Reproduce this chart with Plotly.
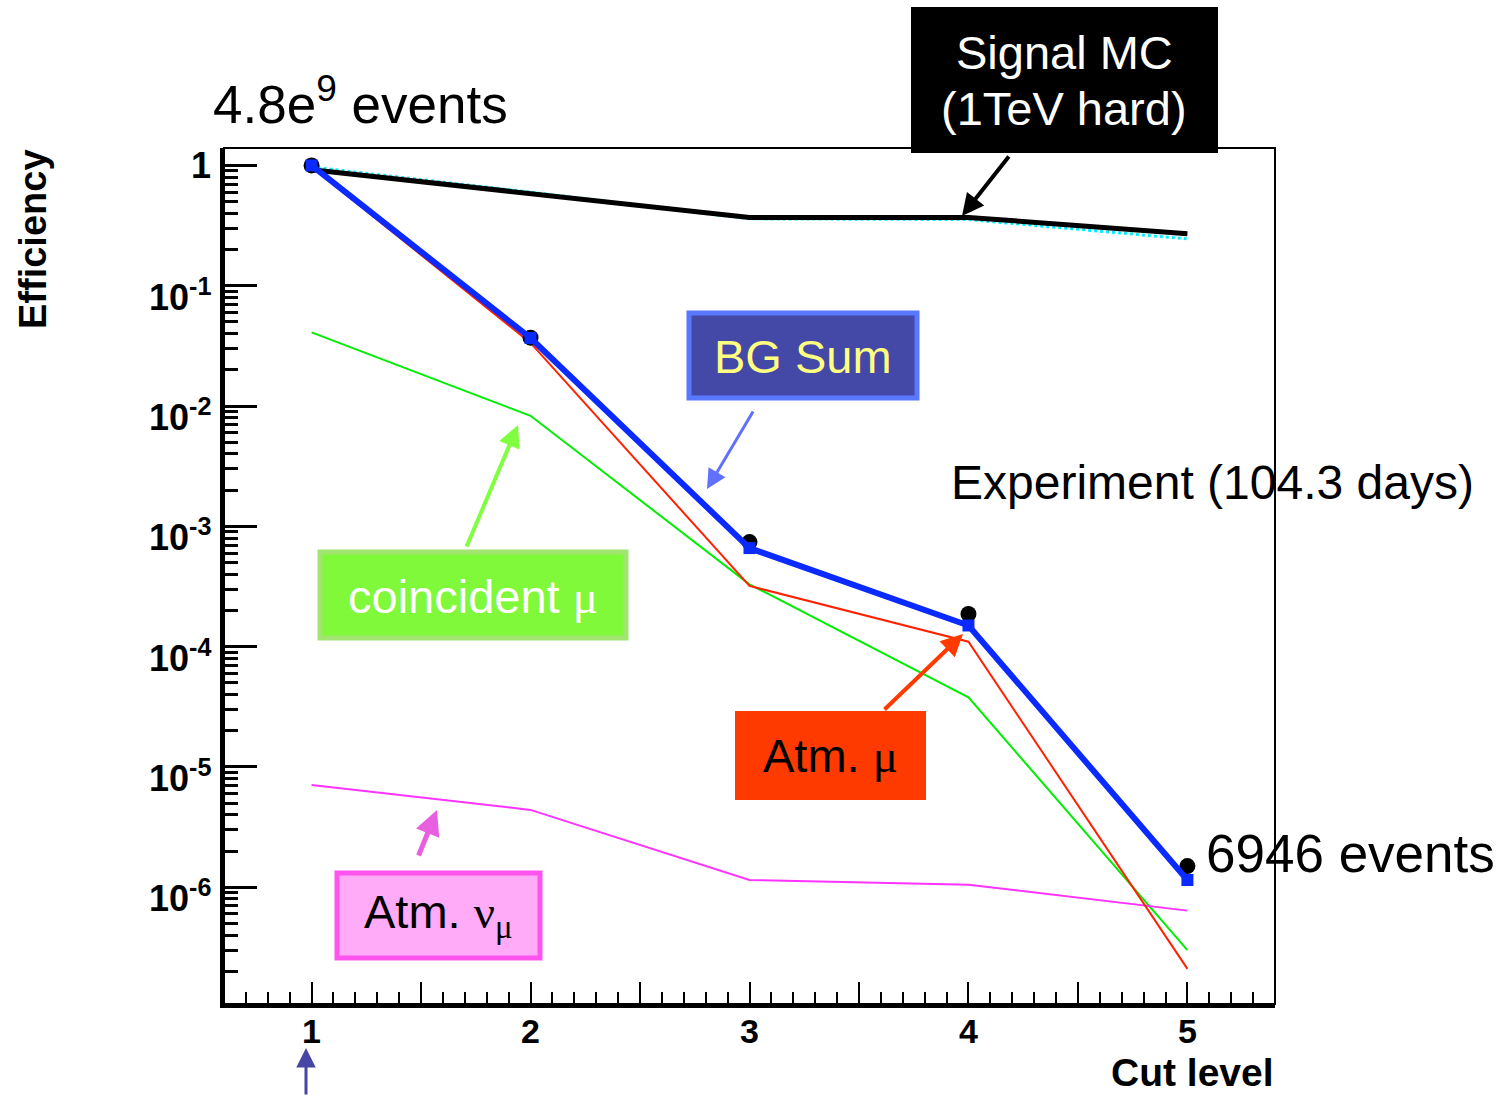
import math
import plotly.graph_objects as go

# ---------------- data ----------------
cut_levels = [1, 2, 3, 4, 5]
signal_mc = [0.92, 0.59, 0.37, 0.37, 0.27]
signal_mc_alt = [0.97, 0.60, 0.36, 0.355, 0.245]
bg_sum = [1.0, 0.0368, 6.6e-4, 1.5e-4, 1.15e-6]
experiment = [1.0, 0.037, 7.4e-4, 1.87e-4, 1.5e-6]
atm_mu = [0.97, 0.0335, 3.2e-4, 1.1e-4, 2.1e-7]
coincident_mu = [0.041, 8.3e-3, 3.3e-4, 3.8e-5, 3.0e-7]
atm_nu_mu = [7.1e-6, 4.4e-6, 1.15e-6, 1.05e-6, 6.4e-7]

x_tickvals = [1, 1.5, 2, 2.5, 3, 3.5, 4, 4.5, 5]
x_labelvals = [1, 2, 3, 4, 5]
x_labeltext = ["1", "2", "3", "4", "5"]
y_tickvals = [1, 1e-1, 1e-2, 1e-3, 1e-4, 1e-5, 1e-6]
y_ticktext = ["1", "10<sup>-1</sup>", "10<sup>-2</sup>", "10<sup>-3</sup>",
              "10<sup>-4</sup>", "10<sup>-5</sup>", "10<sup>-6</sup>"]

# ---------------- layout geometry ----------------
W, H = 1504, 1096
L, R, T, B = 224, 1275, 148, 1004
PW, PH = R - L, B - T


def px(x):
    return (x - L) / PW


def py(y):
    return (B - y) / PH


FONT = "Arial, Liberation Sans, Helvetica, sans-serif"
SERIF = "Liberation Serif, Times New Roman, serif"

fig = go.Figure()

fig.add_trace(go.Scatter(x=cut_levels, y=signal_mc_alt, mode="lines",
                         line=dict(color="#00f0ff", width=3, dash="dot"),
                         showlegend=False))
fig.add_trace(go.Scatter(x=cut_levels, y=signal_mc, mode="lines",
                         line=dict(color="black", width=5),
                         showlegend=False))
fig.add_trace(go.Scatter(x=cut_levels, y=coincident_mu, mode="lines",
                         line=dict(color="#00ee00", width=2),
                         showlegend=False))
fig.add_trace(go.Scatter(x=cut_levels, y=atm_nu_mu, mode="lines",
                         line=dict(color="#ff33ff", width=2),
                         showlegend=False))
fig.add_trace(go.Scatter(x=cut_levels, y=atm_mu, mode="lines",
                         line=dict(color="#ff2200", width=2),
                         showlegend=False))
fig.add_trace(go.Scatter(x=cut_levels, y=experiment, mode="markers",
                         marker=dict(color="black", size=16, symbol="circle"),
                         showlegend=False))
fig.add_trace(go.Scatter(x=cut_levels, y=bg_sum, mode="lines+markers",
                         line=dict(color="#0a2aff", width=6),
                         marker=dict(color="#0a2aff", size=12, symbol="square"),
                         showlegend=False))

minor_y = [m * 10 ** k for k in range(-7, 1) for m in range(2, 10)]

fig.update_layout(
    width=W, height=H,
    margin=dict(l=L, r=W - R, t=T, b=H - B, pad=0),
    paper_bgcolor="white", plot_bgcolor="white",
    font=dict(family=FONT, color="black"),
    xaxis=dict(
        range=[0.6, 5.4], showgrid=False, zeroline=False,
        showline=True, linecolor="black", linewidth=4,
        tickmode="array", tickvals=x_tickvals, showticklabels=False,
        ticks="inside", ticklen=22, tickwidth=2, tickcolor="black",
        minor=dict(dtick=0.1, tick0=0, ticks="inside", ticklen=12,
                   tickwidth=2, tickcolor="black", showgrid=False),
    ),
    yaxis=dict(
        type="log", range=[-6.97, 0.145], showgrid=False, zeroline=False,
        showline=True, linecolor="black", linewidth=4,
        tickmode="array", tickvals=y_tickvals, showticklabels=False,
        ticks="inside", ticklen=33, tickwidth=3, tickcolor="black",
        minor=dict(tickmode="array", tickvals=minor_y, ticks="inside",
                   ticklen=14, tickwidth=3, tickcolor="black", showgrid=False),
    ),
)

shapes = []
# top / right frame
shapes.append(dict(type="rect", xref="paper", yref="paper", x0=0, x1=1, y0=0, y1=1,
                   line=dict(color="black", width=2), layer="above"))


def box(x0, y0, x1, y1, fill, border=None, bw=0):
    shapes.append(dict(type="rect", xref="paper", yref="paper",
                       x0=px(x0), x1=px(x1), y0=py(y1), y1=py(y0),
                       fillcolor=fill,
                       line=dict(color=border if border else fill, width=bw if border else 0),
                       layer="above"))


box(911, 7, 1218, 153, "black")
box(689, 313, 917, 398, "#4449a8", "#5a78ff", 5)
box(320, 552, 626, 638, "#80f93a", "#a2e470", 5)
box(735, 711, 926, 800, "#ff3a00")
box(337, 873, 540, 958, "#ffabf8", "#ff55ee", 5)
fig.update_layout(shapes=shapes)

ann = []

# axis tick labels (ROOT style placement)
for v, t in zip(x_labelvals, x_labeltext):
    ann.append(dict(xref="x", yref="paper", x=v, y=py(1031), text=t, showarrow=False,
                    xanchor="center", yanchor="middle",
                    font=dict(size=34, family=FONT, weight="bold", color="black")))
for v, t in zip(y_tickvals, y_ticktext):
    ann.append(dict(xref="paper", yref="y", x=px(213), y=math.log10(v), text=t,
                    showarrow=False, xanchor="right", yanchor="middle",
                    yshift=0 if v == 1 else -9,
                    font=dict(size=36, family=FONT, weight="bold", color="black")))


def text(x, y, s, size=47, color="black", xanchor="left", bold=False, angle=0, yanchor="middle"):
    ann.append(dict(xref="paper", yref="paper", x=px(x), y=py(y), text=s,
                    showarrow=False, xanchor=xanchor, yanchor=yanchor, textangle=angle,
                    font=dict(size=size, color=color, family=FONT,
                              weight="bold" if bold else "normal")))


def arrow(tx, ty, hx, hy, color, width, size=1.0):
    ann.append(dict(xref="paper", yref="paper", x=px(hx), y=py(hy), text="",
                    showarrow=True, axref="pixel", ayref="pixel",
                    ax=tx - hx, ay=ty - hy, arrowhead=2, arrowsize=size,
                    arrowwidth=width, arrowcolor=color, standoff=0, startstandoff=0))


text(211, 100, "4.8e<sup>9</sup> events", size=53)
text(1064, 53, "Signal MC", color="white", xanchor="center")
text(1064, 108, "(1TeV hard)", color="white", xanchor="center")
text(803, 356, "BG Sum", color="#ffff80", xanchor="center")
text(949, 482, "Experiment (104.3 days)", size=48)
text(473, 596, f"coincident <span style='font-family:{SERIF}'>μ</span>", color="white", xanchor="center")
text(830, 755, f"Atm. <span style='font-family:{SERIF}'>μ</span>", xanchor="center")
text(1204, 853, "6946 events", size=53)
text(438, 915, f"Atm. <span style='font-family:{SERIF}'>ν<sub>μ</sub></span>", xanchor="center")
text(1276, 1096, "Cut level", size=39, bold=True, xanchor="right", yanchor="bottom")
text(33, 147, "Efficiency", size=38, bold=True, xanchor="center", angle=-90, yanchor="top")

arrow(1010, 155, 962, 216, "black", 4, 1.1)
arrow(754, 410, 707, 489, "#6070ff", 3, 1.3)
arrow(466, 548, 518, 425, "#80ff40", 4, 1.1)
arrow(883, 711, 963, 634, "#ff3a00", 4, 1.1)
arrow(418, 857, 437, 810, "#e860e0", 5, 1.0)
arrow(306, 1100, 306, 1048, "#4545a5", 3, 1.3)

fig.update_layout(annotations=ann)

fig.write_html("out.html", config={"displayModeBar": False},
               post_script="document.body.style.margin='0';document.body.style.overflow='hidden';")
